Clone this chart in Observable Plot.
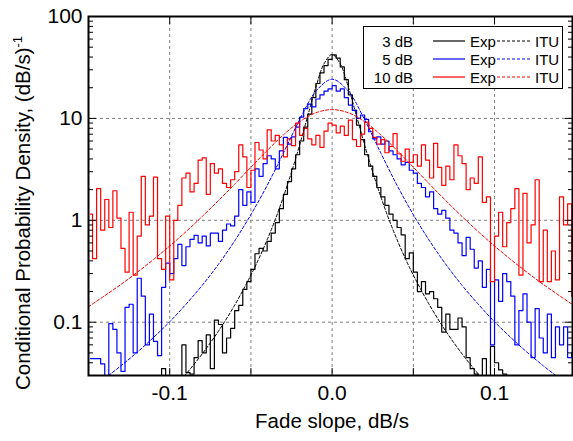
<!DOCTYPE html>
<html><head><meta charset="utf-8">
<script src="https://cdn.jsdelivr.net/npm/d3@7"></script>
<script src="https://cdn.jsdelivr.net/npm/@observablehq/plot@0.6"></script>
<style>
body{margin:0;background:#fff;}
#chart svg{display:block;}
</style></head><body><div id="chart"></div>
<script>
// Histogram bin grid (bin centres) for the experimental curves
const binStart = -0.14875;
const binWidth = 0.0025;

// Experimental conditional PDFs, (dB/s)^-1, one value per bin
const exp3dB = [
0.02,0.02,0.02,0.02,0.02,0.02,0.02,0.02,0.02,0.02,
0.02,0.02,0.02,0.02,0.02,0.02,0.02,0.02,0.035,0.02,
0.02,0.02,0.02,0.06,0.032,0.031,0.045,0.066,0.05,0.075,
0.035,0.105,0.095,0.05,0.07,0.087,0.13,0.146,0.21,0.25,
0.33,0.47,0.53,0.5,0.62,0.75,0.95,1.3,1.8,2.4,
3.2,4.4,6.0,8.2,11.0,16,22,28,33,38,
42,39,32,24,17,12,8.6,6.2,4.4,3.4,
2.7,2.1,1.7,1.4,1.15,1.0,0.85,0.72,0.42,0.48,
0.31,0.2,0.25,0.19,0.2,0.17,0.14,0.08,0.12,0.085,
0.085,0.11,0.09,0.045,0.035,0.031,0.02,0.044,0.02,0.058,
0.04,0.034,0.031,0.02,0.02,0.02,0.02,0.02,0.02,0.02,
0.02,0.02,0.02,0.02,0.02,0.02,0.02,0.02,0.02,0.02];
const exp5dB = [
0.044,0.044,0.044,0.039,0.02,0.097,0.085,0.05,0.033,0.14,
0.15,0.05,0.27,0.18,0.06,0.12,0.065,0.047,0.22,0.38,
0.30,0.42,0.58,0.36,0.55,0.65,0.71,0.6,0.7,0.56,
0.75,0.75,0.62,0.8,0.92,0.88,1.1,2.0,1.4,1.9,
1.5,3.2,2.7,3.6,4.3,4.0,3.2,4.8,6.5,5.6,
6.6,8.2,10.3,12.5,13.8,13.0,15.5,17.0,18.5,19.5,
21.0,18.5,19.5,16.0,13.5,12.0,10.0,10.8,9.8,7.4,
6.3,6.6,5.6,6.0,4.8,4.4,4.0,3.5,3.7,3.1,
2.9,2.3,2.1,1.7,1.9,1.3,1.15,1.25,1.05,0.8,
0.75,0.6,0.45,0.68,0.52,0.34,0.40,0.22,0.33,0.06,
0.26,0.16,0.3,0.25,0.18,0.06,0.13,0.19,0.1,0.045,
0.136,0.07,0.05,0.12,0.045,0.09,0.06,0.09,0.045,0.05];
const exp10dB = [
1.15,0.42,2.05,0.8,1.6,0.85,1.95,1.05,0.53,0.31,
1.2,0.29,0.7,2.7,0.9,1.1,2.65,0.42,0.33,1.1,
0.26,1.0,1.4,2.6,2.9,1.9,2.3,3.9,4.1,1.8,
3.6,2.9,3.2,2.3,2.1,2.5,3.0,5.5,4.2,2.1,
3.1,5.8,4.9,4.0,7.7,6.0,6.8,5.5,4.2,6.3,
5.4,9.0,6.8,8.0,6.3,5.5,6.8,5.2,7.5,9.0,
8.6,7.2,8.4,6.8,9.6,6.2,5.3,7.0,9.2,8.0,
6.5,5.6,6.2,4.6,5.3,7.1,4.5,3.8,5.0,3.7,
4.4,3.4,5.5,3.9,2.6,5.7,3.3,2.2,3.4,2.5,
5.5,4.3,3.6,2.0,2.6,2.3,4.2,1.5,1.7,0.25,
0.7,1.2,0.55,0.95,1.3,2.05,0.29,1.84,0.6,0.9,
2.5,0.25,0.8,0.25,0.5,0.26,1.7,0.9,1.45,0.18];

// ITU model curves
const itu3Slope = [-0.11,-0.1,-0.09,-0.08,-0.07,-0.06,-0.05,-0.045,-0.04,-0.035,-0.03,-0.025,-0.02,-0.015,-0.01,-0.005,0,
  0.005,0.01,0.015,0.02,0.025,0.03,0.035,0.04,0.045,0.05,0.06,0.07,0.08,0.09,0.1,0.11];
const itu3dB = [0.0141,0.0205,0.031,0.0489,0.0817,0.147,0.29,0.424,0.644,1.02,1.70,2.97,5.49,10.6,20.3,34.3,42.4,
  34.3,20.3,10.6,5.49,2.97,1.70,1.02,0.644,0.424,0.29,0.147,0.0817,0.0489,0.031,0.0205,0.0141];
const ituSlope = [-0.15,-0.14,-0.13,-0.12,-0.11,-0.1,-0.09,-0.08,-0.07,-0.06,-0.05,-0.04,-0.03,-0.02,-0.01,0,
  0.01,0.02,0.03,0.04,0.05,0.06,0.07,0.08,0.09,0.1,0.11,0.12,0.13,0.14,0.15];
const itu5dB = [0.0215,0.0281,0.0374,0.0508,0.0708,0.101,0.150,0.230,0.370,0.628,1.137,2.20,4.57,9.71,18.47,24.2,
  18.47,9.71,4.57,2.20,1.137,0.628,0.370,0.230,0.150,0.101,0.0708,0.0508,0.0374,0.0281,0.0215];
const itu10dB = [0.142,0.182,0.235,0.309,0.412,0.56,0.773,1.09,1.56,2.26,3.32,4.84,6.89,9.28,11.35,12.2,
  11.35,9.28,6.89,4.84,3.32,2.26,1.56,1.09,0.773,0.56,0.412,0.309,0.235,0.182,0.142];

// Series labels and colours
const seriesNames = ["3 dB", "5 dB", "10 dB"];
const seriesColors = ["#000000", "#0000ff", "#ff0000"];

// Axis ticks
const xTicks = [-0.1, 0, 0.1];
const xTickLabels = ["-0.1", "0.0", "0.1"];
const xGrid = [-0.1, -0.05, 0, 0.05, 0.1];
const yTicks = [0.1, 1, 10, 100];
const yTickLabels = ["0.1", "1", "10", "100"];
const yGrid = [0.1, 1, 10];
const yMinor = [0.04,0.05,0.06,0.07,0.08,0.09,0.2,0.3,0.4,0.5,0.6,0.7,0.8,0.9,2,3,4,5,6,7,8,9,20,30,40,50,60,70,80,90];

const expSets = [exp3dB, exp5dB, exp10dB];
const expRows = expSets.map(vals => vals.map((v, i) => ({slope: binStart + i * binWidth, density: v})));
const ituRows = [
  itu3Slope.map((s, i) => ({slope: s, density: itu3dB[i]})),
  ituSlope.map((s, i) => ({slope: s, density: itu5dB[i]})),
  ituSlope.map((s, i) => ({slope: s, density: itu10dB[i]}))
];

const font = "Arial, 'Liberation Sans', Helvetica, sans-serif";
const gridStyle = {stroke: "#808080", strokeOpacity: 1, strokeDasharray: "3,3", strokeWidth: 1};

const svg = Plot.plot({
  width: 573, height: 441,
  marginTop: 16, marginBottom: 66, marginLeft: 88, marginRight: 1,
  style: {fontFamily: font, fontSize: "21px", color: "#000", background: "#fff"},
  x: {type: "linear", domain: [-0.15, 0.148]},
  y: {type: "log", domain: [0.03, 100]},
  marks: [
    Plot.gridX(xGrid, gridStyle),
    Plot.gridY(yGrid, gridStyle),
    ...expRows.map((rows, k) => Plot.line(rows, {x: "slope", y: "density", curve: "step", stroke: seriesColors[k], strokeWidth: 1.2, clip: true})),
    ...ituRows.map((rows, k) => Plot.line(rows, {x: "slope", y: "density", curve: "catmull-rom", stroke: seriesColors[k], strokeWidth: 1, strokeDasharray: "3,2", clip: true})),
    Plot.frame({stroke: "#000", strokeWidth: 2}),
    Plot.axisY(yMinor, {anchor: "left", tickSize: -5, tickFormat: () => "", label: null}),
    Plot.axisY(yMinor, {anchor: "right", tickSize: -5, tickFormat: () => "", label: null}),
    Plot.axisY(yTicks, {anchor: "right", tickSize: -8, tickFormat: () => "", label: null}),
    Plot.axisY(yTicks, {anchor: "left", tickSize: -8, tickFormat: () => "", label: null}),
    Plot.axisY(yTicks, {anchor: "left", tickSize: 0, tickPadding: 6, fontSize: 21, tickFormat: d => yTickLabels[yTicks.indexOf(d)], label: null}),
    Plot.axisX(xGrid, {anchor: "bottom", tickSize: -7, tickFormat: () => "", label: null}),
    Plot.axisX(xGrid, {anchor: "top", tickSize: -7, tickFormat: () => "", label: null}),
    Plot.axisX(xTicks, {anchor: "bottom", tickSize: 0, tickPadding: 10, fontSize: 21, tickFormat: d => xTickLabels[xTicks.indexOf(d)], label: null})
  ]
});

const s = d3.select(svg);
// Axis titles
s.append("text").attr("x", 332).attr("y", 428).attr("text-anchor", "middle")
  .attr("font-family", font).attr("font-size", 20.5).attr("fill", "#000").text("Fade slope, dB/s");
const yl = s.append("text").attr("transform", "translate(30,213) rotate(-90)").attr("text-anchor", "middle")
  .attr("font-family", font).attr("font-size", 20.5).attr("fill", "#000");
yl.append("tspan").text("Conditional Probability Density, (dB/s)");
yl.append("tspan").attr("dy", -8).attr("font-size", 13).text("-1");

// Legend
const lg = s.append("g").attr("font-family", font).attr("font-size", 15).attr("fill", "#000").attr("text-anchor", "start");
lg.append("rect").attr("x", 363.5).attr("y", 26.5).attr("width", 199).attr("height", 62)
  .attr("fill", "#fff").attr("stroke", "#000").attr("stroke-width", 1);
seriesNames.forEach((name, k) => {
  const cy = 41 + k * 18;
  lg.append("text").attr("x", 413).attr("y", cy + 5.5).attr("text-anchor", "end").text(name);
  lg.append("line").attr("x1", 433).attr("x2", 465).attr("y1", cy).attr("y2", cy)
    .attr("stroke", seriesColors[k]).attr("stroke-width", 1.2);
  lg.append("text").attr("x", 470).attr("y", cy + 5.5).attr("text-anchor", "start").text("Exp");
  lg.append("line").attr("x1", 497).attr("x2", 530).attr("y1", cy).attr("y2", cy)
    .attr("stroke", seriesColors[k]).attr("stroke-width", 1).attr("stroke-dasharray", "3,2");
  lg.append("text").attr("x", 535).attr("y", cy + 5.5).attr("text-anchor", "start").text("ITU");
});

document.getElementById("chart").appendChild(svg);
</script>
</body></html>
